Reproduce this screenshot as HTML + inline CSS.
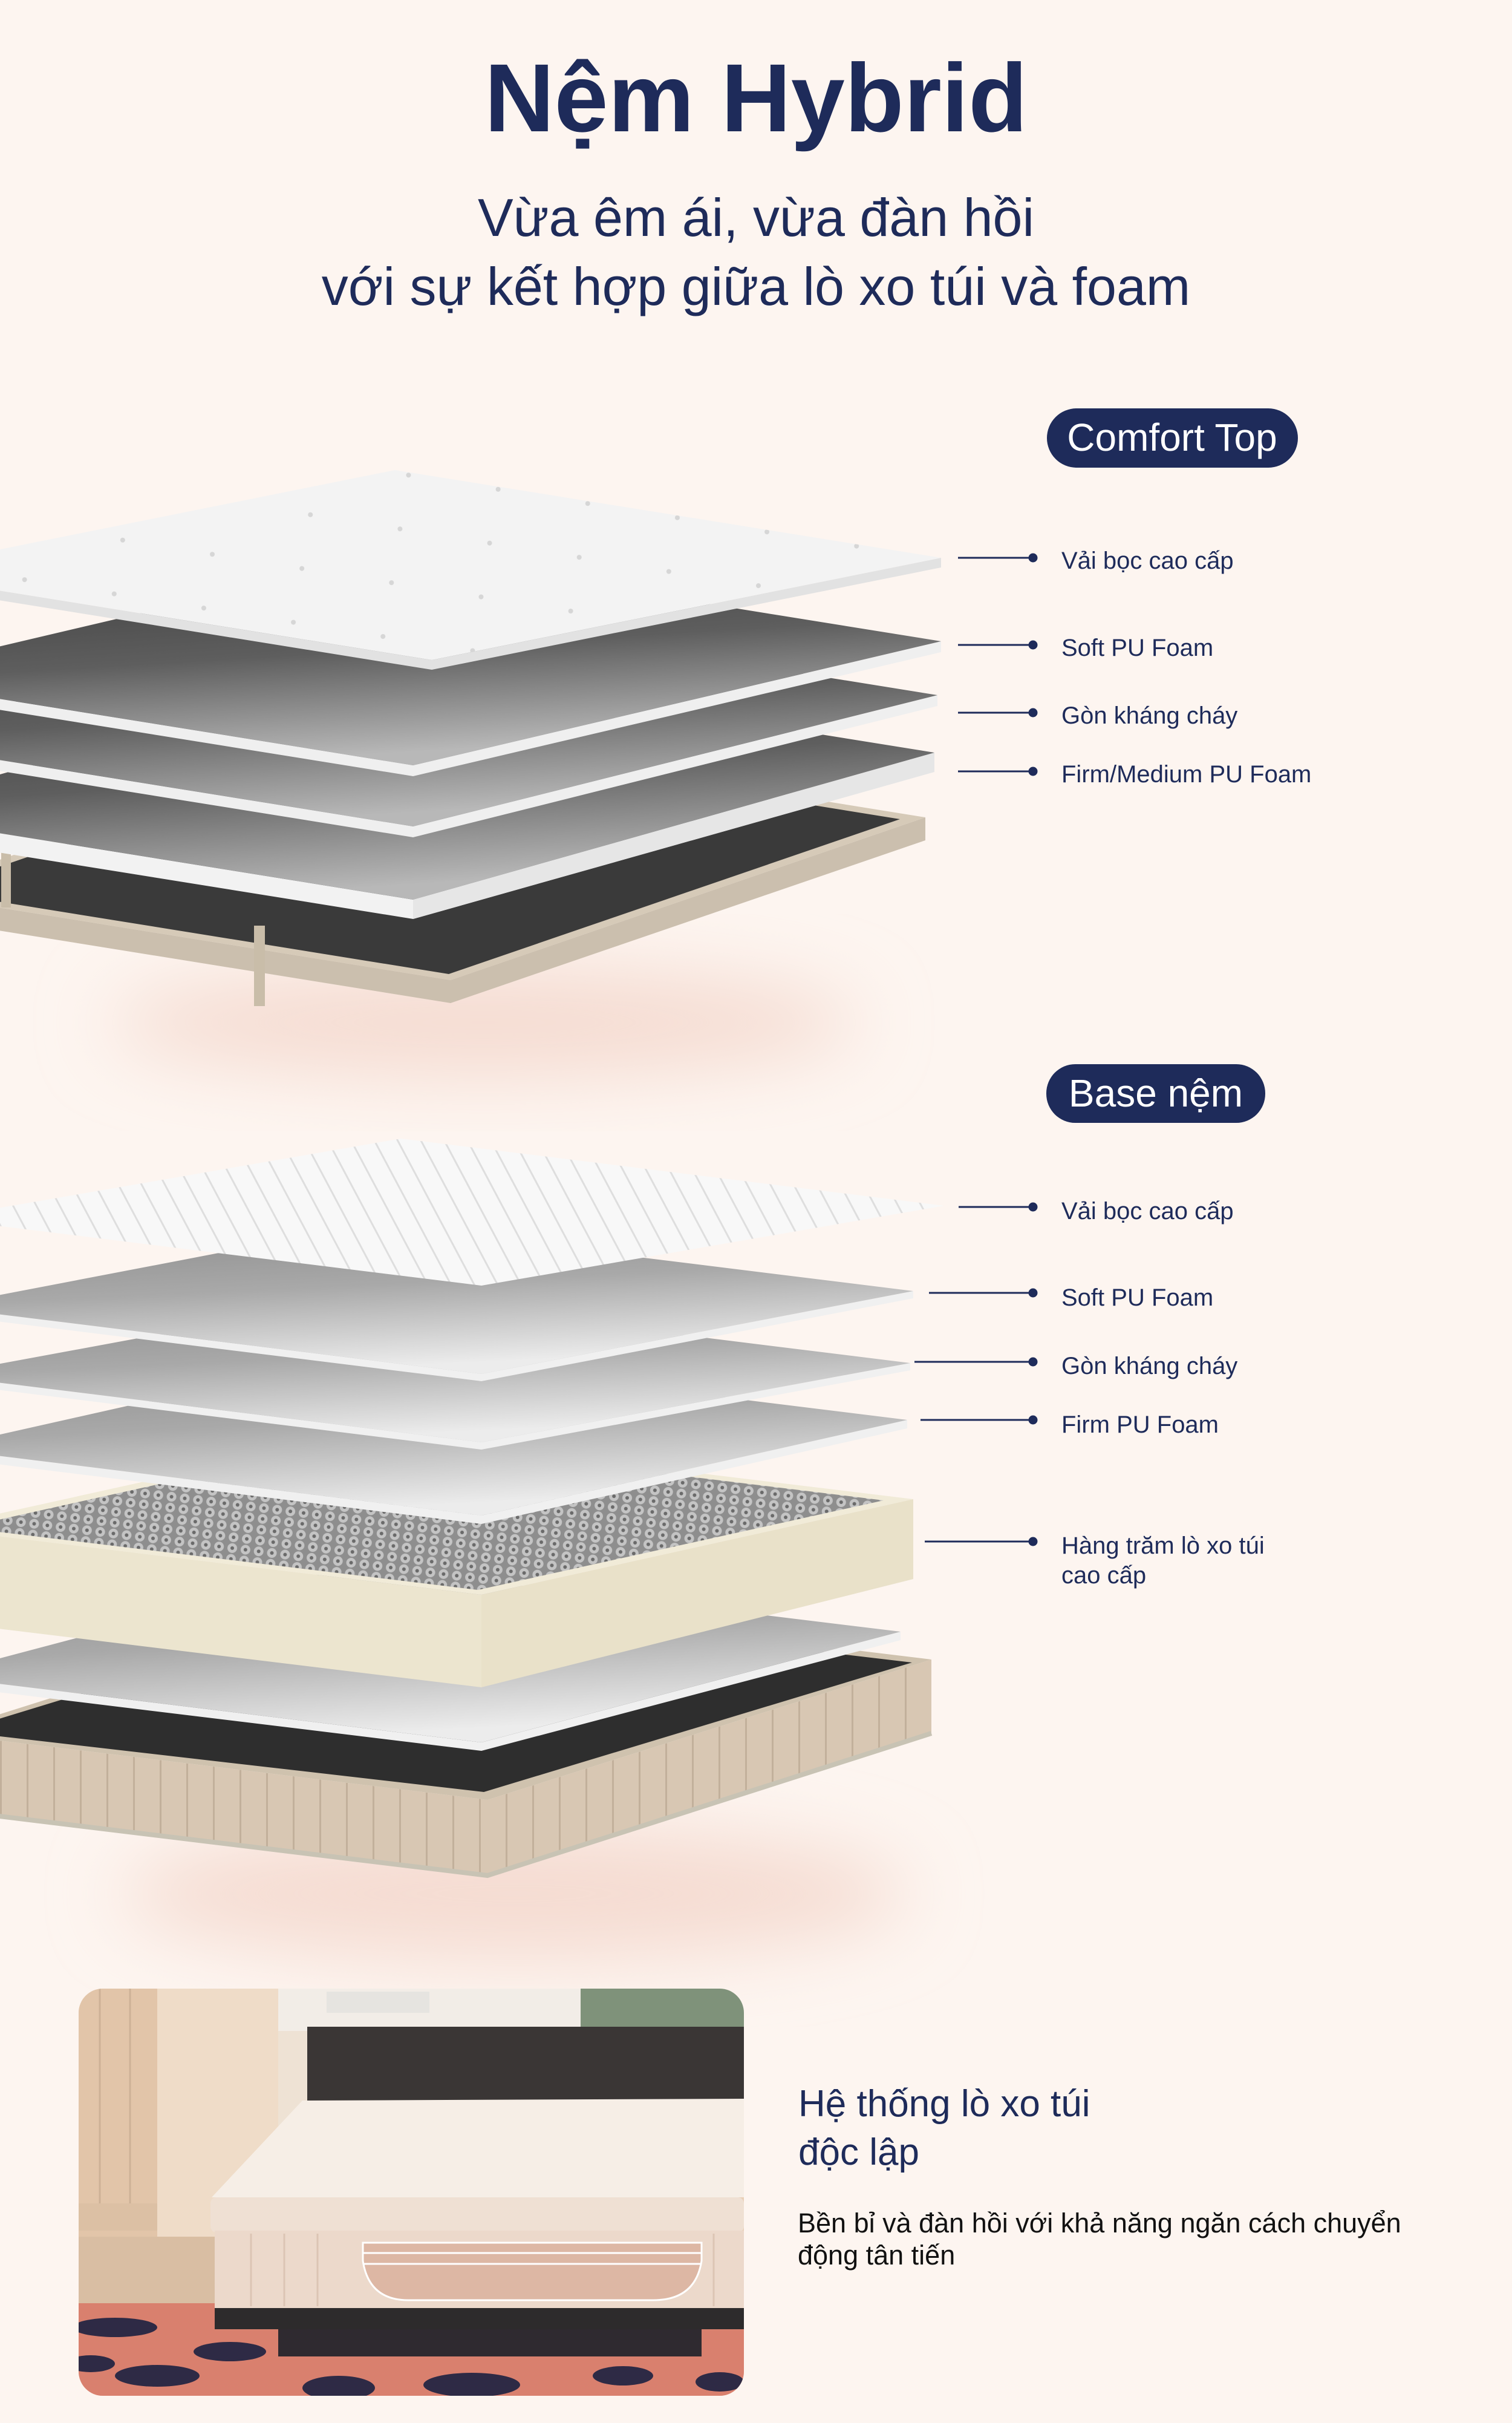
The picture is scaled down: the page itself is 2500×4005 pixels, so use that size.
<!DOCTYPE html>
<html><head><meta charset="utf-8"><style>
html,body{margin:0;padding:0;background:#fdf5f0;}
svg{display:block}
</style></head><body>
<svg width="2500" height="4005" viewBox="0 0 2500 4005" xmlns="http://www.w3.org/2000/svg" font-family="Liberation Sans, sans-serif">
<defs>
  <linearGradient id="dk" x1="0" y1="0" x2="0.3" y2="1">
    <stop offset="0" stop-color="#3a3a3a"/><stop offset="0.55" stop-color="#5e5e5e"/><stop offset="1" stop-color="#b8b8b8"/>
  </linearGradient>
  <linearGradient id="lt" x1="0" y1="0" x2="0.3" y2="1">
    <stop offset="0" stop-color="#8a8a8a"/><stop offset="0.5" stop-color="#a9a9a9"/><stop offset="1" stop-color="#ececec"/>
  </linearGradient>
  <pattern id="dots" width="150" height="90" patternUnits="userSpaceOnUse" patternTransform="rotate(9)">
    <circle cx="40" cy="40" r="4" fill="#d6d6d6"/>
  </pattern>
  <pattern id="quilt" width="34" height="34" patternUnits="userSpaceOnUse" patternTransform="rotate(-28)">
    <rect width="34" height="34" fill="#f8f8f8"/><rect x="0" width="3" height="34" fill="#dedede"/>
  </pattern>
  <pattern id="spring" width="22" height="18" patternUnits="userSpaceOnUse" patternTransform="rotate(7)">
    <rect width="22" height="18" fill="#8e8e8e"/><circle cx="11" cy="9" r="8" fill="#c4c4c4"/><circle cx="11" cy="9" r="3" fill="#6a6a6a"/>
  </pattern>
  <pattern id="ribs" width="44" height="10" patternUnits="userSpaceOnUse">
    <rect width="44" height="10" fill="#d8c7b3"/><rect width="3" height="10" fill="#c2b09b"/>
  </pattern>
  <filter id="blur" x="-50%" y="-50%" width="200%" height="200%"><feGaussianBlur stdDeviation="60"/></filter>
  <clipPath id="pc"><rect x="0" y="0" width="1100" height="673" rx="40"/></clipPath>
</defs>

<text x="1250" y="217" text-anchor="middle" font-size="160" font-weight="bold" fill="#1e2b5a">Nệm Hybrid</text>
<text x="1250" y="390" text-anchor="middle" font-size="88" fill="#1e2b5a">Vừa êm ái, vừa đàn hồi</text>
<text x="1250" y="504" text-anchor="middle" font-size="88" fill="#1e2b5a">với sự kết hợp giữa lò xo túi và foam</text>

<ellipse cx="800" cy="1690" rx="620" ry="90" fill="#f5dcd2" filter="url(#blur)"/>
<ellipse cx="850" cy="3130" rx="650" ry="110" fill="#f5dcd2" filter="url(#blur)"/>

<!-- SET 1 -->
<polygon points="-158,1475 745,1620 1530,1351 1530,1389 745,1658 -158,1513" fill="#cbbfae"/>
<polygon points="-158,1475 627,1206 1530,1351 745,1620" fill="#d6cab8"/>
<polygon points="-116,1472 630,1216 1488,1354 742,1610" fill="#3a3a3a"/>
<rect x="420" y="1530" width="18" height="133" fill="#c9bda9"/>
<rect x="2" y="1380" width="16" height="120" fill="#c9bda9"/>
<polygon points="-220,1342 683,1487 1545,1244 1545,1276 683,1519 -220,1374" fill="#f2f2f2"/>
<polygon points="683,1487 1545,1244 1545,1276 683,1519" fill="#e6e6e6"/>
<polygon points="-220,1342 642,1099 1545,1244 683,1487" fill="url(#dk)"/>
<polygon points="683,1366 1550,1149 1550,1167 683,1384 -220,1239 -220,1221" fill="#efefef"/>
<polygon points="-220,1221 647,1004 1550,1149 683,1366" fill="url(#dk)"/>
<polygon points="683,1265 1556,1060 1556,1078 683,1283 -220,1138 -220,1120" fill="#efefef"/>
<polygon points="-220,1120 653,915 1556,1060 683,1265" fill="url(#dk)"/>
<polygon points="714,1091 1556,922 1556,938 714,1107 -189,962 -189,946" fill="#e2e2e2"/>
<polygon points="-189,946 653,777 1556,922 714,1091" fill="#f3f3f3"/>
<polygon points="-189,946 653,777 1556,922 714,1091" fill="url(#dots)"/>

<!-- SET 2 -->
<polygon points="-100,2865 806,2975 1540,2743 1540,2865 806,3100 -100,2990" fill="url(#ribs)"/>
<polyline points="-100,2990 806,3100 1540,2865" fill="none" stroke="#c8c3b4" stroke-width="8"/>
<polygon points="-100,2865 634,2633 1540,2743 806,2975" fill="#cfc2ae"/>
<polygon points="-70,2862 640,2645 1508,2748 800,2962" fill="#2e2e2e"/>
<polygon points="796,2880 1489,2697 1489,2711 796,2894 -110,2784 -110,2770" fill="#f0f0f0"/>
<polygon points="-110,2770 583,2587 1489,2697 796,2880" fill="url(#lt)"/>
<polygon points="-110,2526 796,2636 796,2789 -110,2679" fill="#ece5cf"/>
<polygon points="796,2636 1510,2478 1510,2610 796,2789" fill="#e9e1c9"/>
<polygon points="-110,2526 604,2368 1510,2478 796,2636" fill="#f1ebd8"/>
<polygon points="-61,2525 610,2376 1461,2480 790,2628" fill="url(#spring)"/>
<polygon points="796,2505 1500,2347 1500,2361 796,2519 -102,2408 -102,2394" fill="#f0f0f0"/>
<polygon points="-102,2394 602,2236 1500,2347 796,2505" fill="url(#lt)"/>
<polygon points="796,2384 1505,2253 1505,2265 796,2396 -102,2285 -102,2273" fill="#f0f0f0"/>
<polygon points="-102,2273 607,2142 1505,2253 796,2384" fill="url(#lt)"/>
<polygon points="796,2271 1510,2134 1510,2146 796,2283 -102,2172 -102,2160" fill="#f0f0f0"/>
<polygon points="-102,2160 612,2023 1510,2134 796,2271" fill="url(#lt)"/>
<polygon points="-102,2014 663,1882 1561,1993 796,2125" fill="url(#quilt)"/>

<rect x="1731" y="675" width="415" height="98" rx="49" fill="#1e2b5a"/>
<text x="1938" y="745" text-anchor="middle" font-size="64" fill="#fff">Comfort Top</text>
<rect x="1730" y="1759" width="362" height="97" rx="48" fill="#1e2b5a"/>
<text x="1911" y="1829" text-anchor="middle" font-size="64" fill="#fff">Base nệm</text>

<g stroke="#1e2b5a" stroke-width="3" fill="#1e2b5a">
<line x1="1584" y1="922" x2="1708" y2="922"/><circle cx="1708" cy="922" r="6"/>
<line x1="1584" y1="1066" x2="1708" y2="1066"/><circle cx="1708" cy="1066" r="6"/>
<line x1="1584" y1="1178" x2="1708" y2="1178"/><circle cx="1708" cy="1178" r="6"/>
<line x1="1584" y1="1275" x2="1708" y2="1275"/><circle cx="1708" cy="1275" r="6"/>
<line x1="1585" y1="1995" x2="1708" y2="1995"/><circle cx="1708" cy="1995" r="6"/>
<line x1="1536" y1="2137" x2="1708" y2="2137"/><circle cx="1708" cy="2137" r="6"/>
<line x1="1512" y1="2251" x2="1708" y2="2251"/><circle cx="1708" cy="2251" r="6"/>
<line x1="1522" y1="2347" x2="1708" y2="2347"/><circle cx="1708" cy="2347" r="6"/>
<line x1="1529" y1="2548" x2="1708" y2="2548"/><circle cx="1708" cy="2548" r="6"/>
</g>
<g font-size="40" fill="#1e2b5a">
<text x="1755" y="940">Vải bọc cao cấp</text>
<text x="1755" y="1084">Soft PU Foam</text>
<text x="1755" y="1196">Gòn kháng cháy</text>
<text x="1755" y="1293">Firm/Medium PU Foam</text>
<text x="1755" y="2015">Vải bọc cao cấp</text>
<text x="1755" y="2158">Soft PU Foam</text>
<text x="1755" y="2271">Gòn kháng cháy</text>
<text x="1755" y="2368">Firm PU Foam</text>
<text x="1755" y="2568">Hàng trăm lò xo túi</text>
<text x="1755" y="2617">cao cấp</text>
</g>

<g transform="translate(130,3287)">
<g clip-path="url(#pc)">
  <rect width="1100" height="673" fill="#e9cfb6"/>
  <rect x="0" y="0" width="130" height="410" fill="#e2c5a9"/>
  <line x1="35" y1="0" x2="35" y2="355" stroke="#cdb196" stroke-width="3"/>
  <line x1="85" y1="0" x2="85" y2="355" stroke="#cdb196" stroke-width="3"/>
  <rect x="0" y="355" width="130" height="45" fill="#dcc0a4"/>
  <rect x="130" y="0" width="200" height="420" fill="#efdcc8"/>
  <rect x="330" y="0" width="770" height="70" fill="#f2ede7"/>
  <rect x="410" y="5" width="170" height="35" fill="#e6e4e0"/>
  <rect x="830" y="0" width="270" height="65" fill="#7f927a"/>
  <rect x="330" y="70" width="48" height="350" fill="#eee2d4"/>
  <rect x="0" y="410" width="1100" height="110" fill="#d9bea3"/>
  <rect x="0" y="520" width="1100" height="153" fill="#d9806e"/>
  <rect x="378" y="63" width="722" height="125" fill="#3a3635"/>
  <polygon points="370,185 1100,182 1100,345 220,345" fill="#f6eee6"/>
  <rect x="218" y="345" width="882" height="58" rx="10" fill="#efe0d3"/>
  <rect x="225" y="400" width="875" height="128" fill="#ecd9cb"/>
  <g stroke="#dcc5b4" stroke-width="3">
    <line x1="285" y1="405" x2="285" y2="525"/><line x1="340" y1="405" x2="340" y2="525"/><line x1="395" y1="405" x2="395" y2="525"/><line x1="1050" y1="405" x2="1050" y2="525"/>
  </g>
  <path d="M470,420 L1030,420 L1030,450 Q1020,515 950,515 L545,515 Q480,515 470,450 Z" fill="#ddb7a4" stroke="#fff" stroke-width="3"/>
  <line x1="470" y1="437" x2="1030" y2="437" stroke="#fff" stroke-width="3"/>
  <line x1="470" y1="455" x2="1030" y2="455" stroke="#fff" stroke-width="3"/>
  <rect x="225" y="528" width="875" height="35" fill="#2d2b2c"/>
  <rect x="330" y="563" width="700" height="45" fill="#2f2a30"/>
  <g fill="#2e2a45">
    <ellipse cx="60" cy="560" rx="70" ry="16"/><ellipse cx="250" cy="600" rx="60" ry="16"/>
    <ellipse cx="130" cy="640" rx="70" ry="18"/><ellipse cx="430" cy="660" rx="60" ry="20"/>
    <ellipse cx="650" cy="655" rx="80" ry="20"/><ellipse cx="900" cy="640" rx="50" ry="16"/>
    <ellipse cx="20" cy="620" rx="40" ry="14"/><ellipse cx="1060" cy="650" rx="40" ry="16"/>
  </g>
</g>
</g>

<text x="1320" y="3498" font-size="62" fill="#1e2b5a">Hệ thống lò xo túi</text>
<text x="1320" y="3578" font-size="62" fill="#1e2b5a">độc lập</text>
<text x="1319" y="3690" font-size="45" fill="#111">Bền bỉ và đàn hồi với khả năng ngăn cách chuyển</text>
<text x="1319" y="3743" font-size="45" fill="#111">động tân tiến</text>
</svg>
</body></html>
